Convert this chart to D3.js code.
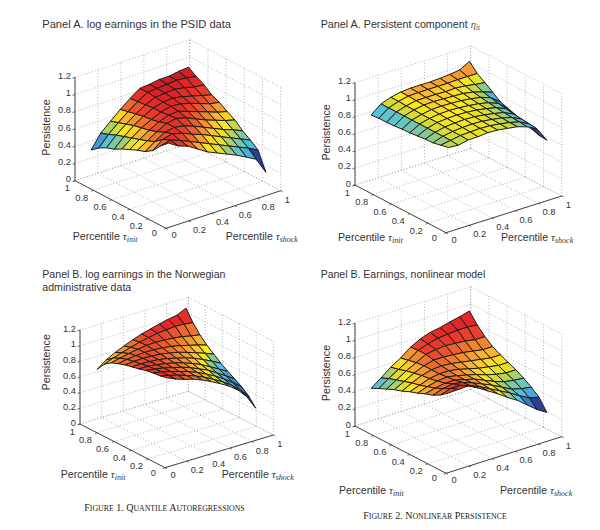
<!DOCTYPE html>
<html><head><meta charset="utf-8">
<script src="https://cdn.jsdelivr.net/npm/d3@7/dist/d3.min.js"></script>
<style>html,body{margin:0;padding:0;background:#fff;}svg{display:block;}</style>
</head><body><svg id="c" width="600" height="530"></svg>
<script>
// percentile grid of the surfaces (11 nodes each way)
const tauGrid  = [.10,.185,.27,.355,.44,.525,.61,.695,.78,.865,.95];
const tauGrid3 = [.08,.162,.244,.326,.408,.49,.572,.654,.736,.818,.90];
const floorTicks = [0,.2,.4,.6,.8,1];
const zTicks = [0,.2,.4,.6,.8,1,1.2];
const tickLabels = ["0","0.2","0.4","0.6","0.8","1"];
const zTickLabels = ["0","0.2","0.4","0.6","0.8","1","1.2"];

// rows: tau_init ascending; columns: tau_shock ascending
const surfacePSID = [
[.89,.82,.78,.71,.64,.59,.54,.49,.43,.37,.18],
[.81,.84,.80,.75,.70,.65,.60,.55,.50,.45,.39],
[.71,.80,.83,.80,.75,.71,.66,.61,.56,.51,.46],
[.65,.73,.80,.82,.80,.76,.71,.66,.61,.57,.52],
[.62,.69,.76,.82,.84,.81,.76,.71,.67,.63,.60],
[.58,.66,.73,.79,.83,.84,.80,.76,.72,.68,.65],
[.54,.63,.71,.77,.82,.85,.84,.81,.77,.73,.71],
[.49,.60,.69,.76,.82,.85,.86,.84,.81,.78,.75],
[.46,.57,.66,.74,.81,.86,.87,.88,.86,.83,.82],
[.41,.53,.63,.72,.80,.87,.88,.89,.90,.89,.87],
[.34,.50,.60,.70,.79,.87,.88,.90,.90,.92,.93]];
const surfacePersistent = [
[.90,.89,.915,.917,.928,.922,.905,.888,.85,.79,.62],
[.88,.90,.92,.925,.93,.925,.91,.89,.86,.80,.63],
[.86,.90,.92,.93,.935,.93,.915,.895,.865,.81,.66],
[.855,.90,.925,.935,.94,.935,.92,.90,.875,.82,.69],
[.845,.90,.93,.94,.945,.94,.93,.91,.885,.835,.725],
[.835,.90,.93,.945,.95,.945,.935,.92,.895,.85,.755],
[.83,.90,.93,.95,.955,.95,.945,.93,.91,.87,.785],
[.82,.90,.935,.955,.96,.955,.95,.945,.925,.89,.85],
[.815,.90,.935,.96,.96,.96,.955,.96,.95,.93,.915],
[.815,.90,.94,.965,.97,.97,.97,.97,.975,.975,.975],
[.805,.90,.94,.965,.975,.975,.975,.98,.99,1.005,1.07]];
const surfaceNorway = [
[1.07,1.02,.98,.95,.905,.85,.79,.725,.64,.52,.34],
[1.05,1.02,.99,.95,.91,.86,.80,.735,.66,.56,.45],
[1.04,1.02,.99,.955,.92,.875,.82,.76,.69,.61,.52],
[1.025,1.01,.99,.96,.93,.89,.84,.79,.72,.65,.575],
[1.00,1.00,.985,.965,.94,.905,.865,.815,.755,.69,.625],
[.98,.985,.98,.97,.95,.92,.89,.85,.80,.745,.685],
[.96,.97,.975,.97,.96,.94,.915,.88,.84,.80,.755],
[.93,.95,.965,.97,.97,.96,.945,.92,.89,.86,.825],
[.895,.92,.945,.965,.98,.985,.98,.97,.955,.93,.91],
[.83,.875,.91,.945,.975,1.0,1.02,1.03,1.04,1.035,1.02],
[.72,.805,.865,.915,.96,1.0,1.03,1.06,1.085,1.105,1.16]];
const surfaceNonlinear = [
[.84,.845,.85,.79,.72,.65,.57,.50,.41,.32,.25],
[.77,.81,.81,.77,.72,.66,.60,.54,.47,.41,.38],
[.72,.76,.78,.76,.72,.67,.62,.56,.50,.47,.45],
[.69,.72,.74,.74,.71,.68,.63,.58,.54,.52,.51],
[.65,.69,.72,.73,.71,.68,.65,.61,.58,.56,.56],
[.62,.66,.70,.72,.72,.70,.67,.64,.62,.60,.60],
[.58,.64,.69,.72,.73,.72,.70,.68,.66,.64,.64],
[.55,.61,.67,.72,.75,.75,.74,.73,.71,.69,.69],
[.51,.58,.65,.71,.77,.79,.80,.79,.78,.76,.76],
[.47,.55,.62,.69,.77,.81,.84,.85,.86,.86,.85],
[.425,.51,.60,.67,.76,.82,.86,.88,.91,.935,.965]];

const palette = ["#2b3f97","#3c7fc8","#4fc0e4","#8cc98c","#d6dc35","#fbe81d","#f9b233","#ef7d2f","#e8402c","#e21f26","#a81e2a"];

const panels = [
 {z:surfacePSID, tau:tauGrid, front:[166,228.3], left:[75,180.7], right:[280.7,190.7], top:77.3,
  colorStops:[.18,.30,.40,.48,.53,.58,.63,.68,.74,.85,.93], titleSize:11.1,
  title:["Panel A. log earnings in the PSID data"], titlePos:[42.3,27.7],
  zLabel:[46,127.5], initLabel:[72.7,236.7], shockLabel:[225.7,236.7]},
 {z:surfacePersistent, tau:tauGrid, front:[446,232.7], left:[355,185], right:[561.7,196], top:82.7,
  colorStops:[.62,.72,.80,.85,.90,.94,.965,.985,1.02,1.07,1.2], titleSize:10.75,
  title:["Panel A. Persistent component "], eta:true, titlePos:[320.7,27.7],
  zLabel:[326,132.4], initLabel:[338,237.3], shockLabel:[501,237.3]},
 {z:surfaceNorway, tau:tauGrid3, front:[165,467.7], left:[80,424], right:[273.3,435], top:330,
  colorStops:[.34,.5,.63,.69,.72,.76,.82,.90,.98,1.05,1.2], titleSize:10.6,
  title:["Panel B. log earnings in the Norwegian","administrative data"], titlePos:[42.3,278.3],
  zLabel:[46.7,362.2], initLabel:[60.7,474.3], shockLabel:[221.7,474.3]},
 {z:surfaceNonlinear, tau:tauGrid, front:[446,473.3], left:[355,426], right:[561.7,436.7], top:323.3,
  colorStops:[.25,.33,.41,.49,.54,.59,.64,.70,.76,.88,1.03], titleSize:10.5,
  title:["Panel B. Earnings, nonlinear model"], titlePos:[320.7,278.3],
  zLabel:[326,373], initLabel:[339,490.7], shockLabel:[500,490.7]}
];

const captions = [
 {parts:["F","IGURE"," 1. Q","UANTILE"," A","UTOREGRESSIONS"], x:84.3, y:511},
 {parts:["F","IGURE"," 2. N","ONLINEAR"," P","ERSISTENCE"], x:363.3, y:519}
];

const svg = d3.select("#c");
const sans = "'Liberation Sans',Arial,sans-serif";
const serif = "'Liberation Serif','Times New Roman',serif";
const ink = "#333";
const gridCol = "#999";

panels.forEach(p => {
  const g = svg.append("g");
  // oblique projection built from linear scales along each floor edge and the z axis
  const initX = d3.scaleLinear([0,1],[0,p.left[0]-p.front[0]]);
  const initY = d3.scaleLinear([0,1],[0,p.left[1]-p.front[1]]);
  const shockX = d3.scaleLinear([0,1],[0,p.right[0]-p.front[0]]);
  const shockY = d3.scaleLinear([0,1],[0,p.right[1]-p.front[1]]);
  const zY = d3.scaleLinear([0,1.2],[0,p.top-p.left[1]]);
  const proj = (ti,ts,z) => [p.front[0]+initX(ti)+shockX(ts), p.front[1]+initY(ti)+shockY(ts)+zY(z)];
  const line = d3.line();
  const color = d3.scaleLinear().domain(p.colorStops).range(palette).clamp(true);
  const seg = (a,b,stroke,w,dash) => g.append("path").attr("d",line([proj(...a),proj(...b)]))
      .attr("fill","none").attr("stroke",stroke).attr("stroke-width",w).attr("stroke-dasharray",dash||null);

  // dotted grid on floor and two back walls
  const D="1 2";
  floorTicks.forEach(t=>{
    seg([t,0,0],[t,1,0],gridCol,.7,D);
    seg([0,t,0],[1,t,0],gridCol,.7,D);
    seg([1,t,0],[1,t,1.2],gridCol,.7,D);
    seg([t,1,0],[t,1,1.2],gridCol,.7,D);
  });
  zTicks.forEach(z=>{
    seg([1,0,z],[1,1,z],gridCol,.7,D);
    seg([1,1,z],[0,1,z],gridCol,.7,D);
  });

  // surface, painted from the far corner to the near corner
  const n = p.tau.length;
  for(let i=n-2;i>=0;i--) for(let j=n-2;j>=0;j--){
    const Z=p.z, T=p.tau;
    const v=[[i,j],[i+1,j],[i+1,j+1],[i,j+1]];
    const pts=v.map(([a,b])=>proj(T[a],T[b],Z[a][b]));
    const c=d3.min(v,([a,b])=>Z[a][b]);
    g.append("path").attr("d",line(pts)+"Z")
      .attr("fill",color(c)).attr("stroke","#1f1c18").attr("stroke-width",1).attr("stroke-linejoin","round");
  }

  // solid axes
  seg([1,0,0],[1,0,1.2],"#333",.9);
  seg([0,0,0],[1,0,0],"#333",.9);
  seg([0,0,0],[0,1,0],"#333",.9);

  zTicks.forEach((z,k)=>{
    const q=proj(1,0,z);
    g.append("path").attr("d",line([q,[q[0]-2.5,q[1]+.8]])).attr("stroke","#333").attr("stroke-width",.7);
    g.append("text").text(zTickLabels[k]).attr("x",q[0]-4).attr("y",q[1]+1.5)
      .attr("text-anchor","end").attr("font-family",sans).attr("font-size",9.3).attr("fill",ink);
  });
  floorTicks.forEach((t,k)=>{
    let q=proj(t,0,0);
    g.append("path").attr("d",line([q,[q[0]-2,q[1]+1]])).attr("stroke","#333").attr("stroke-width",.7);
    g.append("text").text(tickLabels[k]).attr("x",q[0]-(t===0?9:5)).attr("y",q[1]+(t===0?8:10.5))
      .attr("text-anchor","end").attr("font-family",sans).attr("font-size",9.3).attr("fill",ink);
    q=proj(0,t,0);
    g.append("path").attr("d",line([q,[q[0]+2,q[1]+1]])).attr("stroke","#333").attr("stroke-width",.7);
    g.append("text").text(tickLabels[k]).attr("x",q[0]+(t===0?5.5:4)).attr("y",q[1]+(t===0?10:12))
      .attr("text-anchor","start").attr("font-family",sans).attr("font-size",9.3).attr("fill",ink);
  });

  // axis labels
  g.append("text").text("Persistence").attr("transform",`translate(${p.zLabel[0]+3.5},${p.zLabel[1]}) rotate(-90)`)
    .attr("text-anchor","middle").attr("font-family",sans).attr("font-size",10.8).attr("fill",ink);
  const tauLabel=(pos,sub)=>{
    const t=g.append("text").attr("x",pos[0]).attr("y",pos[1]+3.5).attr("font-family",sans).attr("font-size",10.6).attr("fill",ink);
    t.append("tspan").text("Percentile ");
    t.append("tspan").text("τ").attr("font-family",serif).attr("font-style","italic").attr("font-size",11);
    t.append("tspan").text(sub).attr("font-family",serif).attr("font-style","italic").attr("font-size",8).attr("dy",2);
  };
  tauLabel(p.initLabel,"init");
  tauLabel(p.shockLabel,"shock");

  // title
  p.title.forEach((l,k)=>{
    const t=g.append("text").attr("x",p.titlePos[0]).attr("y",p.titlePos[1]+k*12.7)
      .attr("font-family",sans).attr("font-size",p.titleSize).attr("fill",ink).text(l);
    if(p.eta&&k===0){
      t.append("tspan").text("η").attr("font-family",serif).attr("font-style","italic").attr("fill","#555");
      t.append("tspan").text("it").attr("font-family",serif).attr("font-style","italic").attr("font-size",7.5).attr("dy",2).attr("fill","#555");
    }
  });
});

captions.forEach(c=>{
  const t=svg.append("text").attr("x",c.x).attr("y",c.y).attr("font-family",serif).attr("fill","#222");
  c.parts.forEach((s,k)=>t.append("tspan").text(s).attr("font-size",k%2?7.8:10));
});
</script></body></html>
